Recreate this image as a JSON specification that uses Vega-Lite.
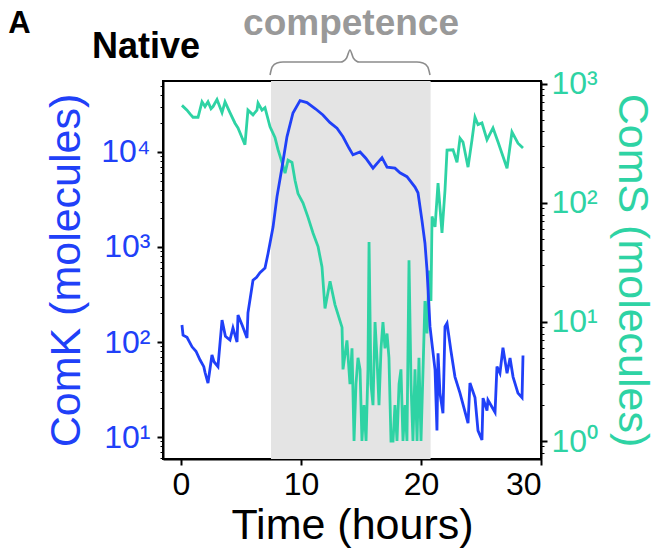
{
  "$schema": "https://vega.github.io/schema/vega-lite/v6.json",
  "width": 378,
  "height": 378,
  "autosize": "none",
  "padding": {"left": 163, "top": 81, "right": 116, "bottom": 93},
  "config": {
    "font": "Liberation Sans",
    "view": {"stroke": "black", "strokeWidth": 2},
    "axis": {"grid": false}
  },
  "datasets": {
    "comk": [
      {"t": 0.08, "v": 151}, {"t": 0.17, "v": 118}, {"t": 0.5, "v": 112}, {"t": 0.92, "v": 89}, {"t": 1.25, "v": 80},
      {"t": 1.58, "v": 65}, {"t": 1.9, "v": 55}, {"t": 2.0, "v": 48},
      {"t": 2.25, "v": 37}, {"t": 2.58, "v": 73}, {"t": 2.75, "v": 62}, {"t": 3.08, "v": 55}, {"t": 3.42, "v": 170},
      {"t": 3.7, "v": 115}, {"t": 4.08, "v": 105}, {"t": 4.33, "v": 141}, {"t": 4.67, "v": 100}, {"t": 4.75, "v": 192},
      {"t": 5.1, "v": 150}, {"t": 5.5, "v": 110}, {"t": 5.58, "v": 203}, {"t": 6.0, "v": 447}, {"t": 6.3, "v": 480}, {"t": 6.58, "v": 537},
      {"t": 7.0, "v": 600}, {"t": 7.25, "v": 850}, {"t": 7.67, "v": 1620}, {"t": 8.0, "v": 3390},
      {"t": 8.42, "v": 6920}, {"t": 8.83, "v": 14450}, {"t": 9.33, "v": 25700}, {"t": 9.92, "v": 34700},
      {"t": 10.5, "v": 33100}, {"t": 11.2, "v": 28500}, {"t": 11.83, "v": 24500}, {"t": 12.4, "v": 20500}, {"t": 13.0, "v": 17800}, {"t": 13.5, "v": 14450},
      {"t": 14.0, "v": 11000}, {"t": 14.33, "v": 9330}, {"t": 14.92, "v": 10000}, {"t": 15.4, "v": 8600}, {"t": 16.0, "v": 6760}, {"t": 16.75, "v": 8710},
      {"t": 17.17, "v": 6920}, {"t": 17.83, "v": 6760}, {"t": 18.25, "v": 6030}, {"t": 18.83, "v": 5500},
      {"t": 19.5, "v": 4270}, {"t": 19.75, "v": 3720}, {"t": 20.08, "v": 1905}, {"t": 20.33, "v": 1096},
      {"t": 20.5, "v": 575}, {"t": 20.75, "v": 145}, {"t": 21.17, "v": 51}, {"t": 21.33, "v": 11.7},
      {"t": 21.42, "v": 76}, {"t": 21.58, "v": 29}, {"t": 21.83, "v": 17.8}, {"t": 22.0, "v": 145},
      {"t": 22.17, "v": 158}, {"t": 22.5, "v": 80}, {"t": 22.83, "v": 43}, {"t": 23.25, "v": 29}, {"t": 23.92, "v": 14},
      {"t": 24.08, "v": 37}, {"t": 24.5, "v": 26}, {"t": 24.75, "v": 11.7}, {"t": 25.08, "v": 9.3},
      {"t": 25.17, "v": 25.7}, {"t": 25.5, "v": 19}, {"t": 25.58, "v": 24.5}, {"t": 26.17, "v": 18.2},
      {"t": 26.33, "v": 55}, {"t": 26.58, "v": 47}, {"t": 26.83, "v": 87}, {"t": 27.17, "v": 47},
      {"t": 27.42, "v": 68}, {"t": 27.67, "v": 43}, {"t": 28.08, "v": 29}, {"t": 28.42, "v": 26},
      {"t": 28.5, "v": 72}
    ],
    "coms": [
      {"t": 0.08, "v": 661}, {"t": 0.5, "v": 603}, {"t": 0.75, "v": 560}, {"t": 1.0, "v": 525}, {"t": 1.42, "v": 525},
      {"t": 1.75, "v": 708}, {"t": 2.0, "v": 646}, {"t": 2.25, "v": 708}, {"t": 2.5, "v": 620}, {"t": 2.67, "v": 646},
      {"t": 3.0, "v": 741}, {"t": 3.42, "v": 575}, {"t": 3.67, "v": 708}, {"t": 4.08, "v": 575},
      {"t": 4.5, "v": 468}, {"t": 4.75, "v": 427}, {"t": 5.08, "v": 355}, {"t": 5.33, "v": 309},
      {"t": 5.58, "v": 603}, {"t": 6.0, "v": 550}, {"t": 6.33, "v": 603}, {"t": 6.42, "v": 692},
      {"t": 6.75, "v": 603}, {"t": 7.0, "v": 631}, {"t": 7.42, "v": 437}, {"t": 7.83, "v": 355},
      {"t": 8.08, "v": 282}, {"t": 8.42, "v": 219}, {"t": 8.67, "v": 178}, {"t": 8.92, "v": 229},
      {"t": 9.25, "v": 219}, {"t": 9.5, "v": 155}, {"t": 9.75, "v": 120}, {"t": 10.17, "v": 100},
      {"t": 10.58, "v": 76}, {"t": 11.0, "v": 56}, {"t": 11.42, "v": 43}, {"t": 11.75, "v": 29},
      {"t": 12.0, "v": 13}, {"t": 12.42, "v": 22}, {"t": 12.83, "v": 14}, {"t": 13.42, "v": 9},
      {"t": 13.5, "v": 4}, {"t": 13.83, "v": 7}, {"t": 14.08, "v": 3}, {"t": 14.25, "v": 6},
      {"t": 14.42, "v": 1}, {"t": 14.58, "v": 3}, {"t": 14.75, "v": 5}, {"t": 14.92, "v": 4},
      {"t": 15.08, "v": 1}, {"t": 15.25, "v": 2}, {"t": 15.42, "v": 1}, {"t": 15.58, "v": 4},
      {"t": 15.67, "v": 47}, {"t": 15.83, "v": 3}, {"t": 16.0, "v": 2}, {"t": 16.17, "v": 10},
      {"t": 16.33, "v": 5}, {"t": 16.5, "v": 2}, {"t": 16.67, "v": 6}, {"t": 16.83, "v": 10},
      {"t": 17.0, "v": 6}, {"t": 17.17, "v": 8}, {"t": 17.33, "v": 5}, {"t": 17.5, "v": 1},
      {"t": 17.67, "v": 1}, {"t": 17.83, "v": 2}, {"t": 18.0, "v": 1}, {"t": 18.17, "v": 3},
      {"t": 18.33, "v": 4}, {"t": 18.5, "v": 1}, {"t": 18.67, "v": 2}, {"t": 18.83, "v": 1},
      {"t": 19.0, "v": 33}, {"t": 19.17, "v": 3}, {"t": 19.33, "v": 1}, {"t": 19.5, "v": 4},
      {"t": 19.67, "v": 1}, {"t": 19.83, "v": 5}, {"t": 20.0, "v": 1}, {"t": 20.17, "v": 4},
      {"t": 20.33, "v": 15}, {"t": 20.5, "v": 8}, {"t": 20.67, "v": 27}, {"t": 20.83, "v": 15},
      {"t": 20.92, "v": 77}, {"t": 21.17, "v": 63}, {"t": 21.42, "v": 147}, {"t": 21.75, "v": 56},
      {"t": 22.0, "v": 128}, {"t": 22.17, "v": 278}, {"t": 22.67, "v": 280}, {"t": 23.0, "v": 220},
      {"t": 23.25, "v": 350}, {"t": 23.5, "v": 325}, {"t": 23.92, "v": 200}, {"t": 24.25, "v": 340},
      {"t": 24.5, "v": 525}, {"t": 24.75, "v": 455}, {"t": 25.08, "v": 470}, {"t": 25.5, "v": 340},
      {"t": 26.0, "v": 427}, {"t": 26.42, "v": 325}, {"t": 27.17, "v": 196}, {"t": 27.58, "v": 395},
      {"t": 28.08, "v": 318}, {"t": 28.5, "v": 290}
    ],
    "phase": [{"start": 7.5, "end": 20.8, "name": "competence"}],
    "brace": [
      {"t": 7.42, "v": 64600}, {"t": 7.6, "v": 78500}, {"t": 8.0, "v": 86500}, {"t": 8.5, "v": 88500},
      {"t": 13.3, "v": 88500}, {"t": 13.8, "v": 97700}, {"t": 14.08, "v": 118600}, {"t": 14.36, "v": 97700},
      {"t": 14.86, "v": 88500}, {"t": 19.66, "v": 88500}, {"t": 20.16, "v": 86500}, {"t": 20.56, "v": 78500},
      {"t": 20.75, "v": 64600}
    ]
  },
  "layer": [
    {
      "data": {"name": "phase"},
      "mark": {"type": "rect", "color": "#e4e4e4"},
      "encoding": {
        "x": {"field": "start", "type": "quantitative", "scale": {"domain": [-1.5, 30], "nice": false, "zero": false},
          "axis": {"values": [0, 10, 20, 30], "title": "Time (hours)", "labelFontSize": 32, "labelColor": "black",
            "tickColor": "black", "tickSize": 6, "tickWidth": 2, "domainColor": "black", "domainWidth": 2,
            "titleFontSize": 43, "titleFontWeight": "normal", "titleColor": "black", "labelPadding": 4, "titlePadding": 4}},
        "x2": {"field": "end"}
      }
    },
    {
      "data": {"name": "coms"},
      "mark": {"type": "line", "color": "#2ed3a4", "strokeWidth": 2.8, "clip": true},
      "encoding": {
        "x": {"field": "t", "type": "quantitative"},
        "y": {"field": "v", "type": "quantitative", "scale": {"type": "log", "domain": [0.706, 1059], "nice": false},
          "axis": {"orient": "right", "title": "ComS (molecules)",
            "values": [0.8, 0.9, 1, 2, 3, 4, 5, 6, 7, 8, 9, 10, 20, 30, 40, 50, 60, 70, 80, 90, 100, 200, 300, 400, 500, 600, 700, 800, 900, 1000],
            "labelExpr": "abs(log(datum.value)/LN10 - round(log(datum.value)/LN10)) < 0.001 ? '10' + ['⁰','¹','²','³','⁴','⁵'][round(log(datum.value)/LN10)] : ''",
            "labelOverlap": false, "labelFlush": false, "labelBound": false,
            "labelFontSize": 32, "labelColor": "#2ed3a4", "labelPadding": 4,
            "tickColor": "black",
            "tickSize": {"condition": {"test": "abs(log(datum.value)/LN10 - round(log(datum.value)/LN10)) < 0.001", "value": 6}, "value": 3},
            "tickWidth": {"condition": {"test": "abs(log(datum.value)/LN10 - round(log(datum.value)/LN10)) < 0.001", "value": 2}, "value": 1},
            "domainColor": "black", "domainWidth": 2,
            "titleFontSize": 43, "titleFontWeight": "normal", "titleColor": "#2ed3a4", "titlePadding": 12}}
      }
    },
    {
      "data": {"name": "comk"},
      "mark": {"type": "line", "color": "#2040f8", "strokeWidth": 2.8, "clip": true},
      "encoding": {
        "x": {"field": "t", "type": "quantitative"},
        "y": {"field": "v", "type": "quantitative", "scale": {"type": "log", "domain": [5.87, 55850], "nice": false},
          "axis": {"orient": "left", "title": "ComK (molecules)",
            "values": [6, 7, 8, 9, 10, 20, 30, 40, 50, 60, 70, 80, 90, 100, 200, 300, 400, 500, 600, 700, 800, 900, 1000, 2000, 3000, 4000, 5000, 6000, 7000, 8000, 9000, 10000, 20000, 30000, 40000, 50000],
            "labelExpr": "abs(log(datum.value)/LN10 - round(log(datum.value)/LN10)) < 0.001 ? '10' + ['⁰','¹','²','³','⁴','⁵'][round(log(datum.value)/LN10)] : ''",
            "labelOverlap": false, "labelFlush": false, "labelBound": false,
            "labelFontSize": 32, "labelColor": "#2040f8", "labelPadding": 7,
            "tickColor": "black",
            "tickSize": {"condition": {"test": "abs(log(datum.value)/LN10 - round(log(datum.value)/LN10)) < 0.001", "value": 6}, "value": 3},
            "tickWidth": {"condition": {"test": "abs(log(datum.value)/LN10 - round(log(datum.value)/LN10)) < 0.001", "value": 2}, "value": 1},
            "domainColor": "black", "domainWidth": 2,
            "titleFontSize": 43, "titleFontWeight": "normal", "titleColor": "#2040f8", "titlePadding": 12}}
      }
    },
    {
      "data": {"name": "brace"},
      "mark": {"type": "line", "color": "#8c8c8c", "strokeWidth": 1.6, "interpolate": "monotone"},
      "encoding": {
        "x": {"field": "t", "type": "quantitative"},
        "y": {"field": "v", "type": "quantitative", "scale": {"type": "log", "domain": [5.87, 55850], "nice": false}, "axis": null}
      }
    },
    {
      "data": {"values": [{}]},
      "mark": {"type": "text", "text": "competence", "fontSize": 37, "fontWeight": "bold", "color": "#999999", "align": "center", "baseline": "alphabetic"},
      "encoding": {
        "x": {"datum": 14.17, "type": "quantitative"},
        "y": {"datum": 170000, "type": "quantitative", "scale": {"type": "log", "domain": [5.87, 55850], "nice": false}, "axis": null}
      }
    },
    {
      "data": {"values": [{}]},
      "mark": {"type": "text", "text": "Native", "fontSize": 36, "fontWeight": "bold", "color": "black", "align": "left", "baseline": "alphabetic"},
      "encoding": {
        "x": {"datum": -7.42, "type": "quantitative"},
        "y": {"datum": 97000, "type": "quantitative", "scale": {"type": "log", "domain": [5.87, 55850], "nice": false}, "axis": null}
      }
    },
    {
      "data": {"values": [{}]},
      "mark": {"type": "text", "text": "A", "fontSize": 31, "fontWeight": "bold", "color": "black", "align": "left", "baseline": "alphabetic"},
      "encoding": {
        "x": {"datum": -14.4, "type": "quantitative"},
        "y": {"datum": 179000, "type": "quantitative", "scale": {"type": "log", "domain": [5.87, 55850], "nice": false}, "axis": null}
      }
    }
  ],
  "resolve": {"scale": {"y": "independent"}}
}
